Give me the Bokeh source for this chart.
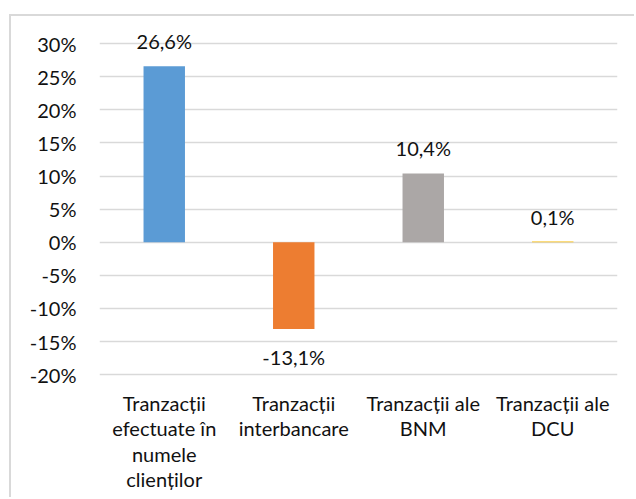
from bokeh.plotting import figure
from bokeh.models import ColumnDataSource, FactorRange, FixedTicker
from bokeh.core.properties import value
from bokeh.embed import file_html
from bokeh.resources import INLINE

categories = [
    "Tranzacții\nefectuate în\nnumele\nclienților",
    "Tranzacții\ninterbancare",
    "Tranzacții ale\nBNM",
    "Tranzacții ale\nDCU",
]
values = [26.6, -13.1, 10.4, 0.1]
colors = ["#5B9BD5", "#ED7D31", "#ABA7A6", "#FFC000"]
y_ticks = [-20, -15, -10, -5, 0, 5, 10, 15, 20, 25, 30]
y_tick_labels = ["-20%", "-15%", "-10%", "-5%", "0%", "5%", "10%", "15%", "20%", "25%", "30%"]

FONT = "Lato"
FS = "20px"
TEXT_COLOR = "#111111"
Y_AXIS_MIN = y_ticks[0]

labels = [f"{v:.1f}".replace(".", ",") + "%" for v in values]
pos_idx = [i for i, v in enumerate(values) if v >= 0]
neg_idx = [i for i, v in enumerate(values) if v < 0]

src = ColumnDataSource(dict(x=categories, top=values, color=colors))
pos_src = ColumnDataSource(dict(x=[categories[i] for i in pos_idx],
                                y=[values[i] for i in pos_idx],
                                label=[labels[i] for i in pos_idx]))
neg_src = ColumnDataSource(dict(x=[categories[i] for i in neg_idx],
                                y=[values[i] for i in neg_idx],
                                label=[labels[i] for i in neg_idx]))
cat_src = ColumnDataSource(dict(x=categories, y=[Y_AXIS_MIN] * len(categories), label=categories))

p = figure(
    x_range=FactorRange(*categories, range_padding=0.0),
    y_range=(-38.86, 33.5),
    width=625, height=483,
    output_backend="svg", toolbar_location=None,
    x_axis_location=None,
    min_border_left=88, min_border_right=19, min_border_top=4, min_border_bottom=0,
)
p.margin = (14, 0, 0, 9)
p.styles = {"border-top": "2px solid #d9d9d9", "border-left": "2px solid #d9d9d9"}
p.outline_line_color = None
p.background_fill_color = "white"
p.border_fill_color = "white"

p.vbar(x="x", top="top", bottom=0, width=0.32, color="color", line_color=None, source=src)

p.text(x="x", y="y", text="label", source=pos_src, text_align="center",
       text_baseline="middle", y_offset=-25, text_font=value(FONT),
       text_font_size=FS, text_color=TEXT_COLOR)
p.text(x="x", y="y", text="label", source=neg_src, text_align="center",
       text_baseline="middle", y_offset=28, text_font=value(FONT),
       text_font_size=FS, text_color=TEXT_COLOR)
p.text(x="x", y="y", text="label", source=cat_src, text_align="center",
       text_baseline="top", y_offset=16, text_font=value(FONT),
       text_font_size=FS, text_color=TEXT_COLOR, text_line_height=1.06)

p.xgrid.grid_line_color = None
p.ygrid.grid_line_color = "#d9d9d9"
p.ygrid.grid_line_width = 1.3
p.ygrid.ticker = FixedTicker(ticks=y_ticks)

p.yaxis.ticker = FixedTicker(ticks=y_ticks)
p.yaxis.major_label_overrides = {t: l for t, l in zip(y_ticks, y_tick_labels)}
p.yaxis.axis_line_color = None
p.yaxis.major_tick_line_color = None
p.yaxis.minor_tick_line_color = None
p.yaxis.major_tick_out = 0
p.yaxis.major_tick_in = 0
p.yaxis.major_label_standoff = 23
p.yaxis.major_label_text_font = FONT
p.yaxis.major_label_text_font_size = FS
p.yaxis.major_label_text_color = TEXT_COLOR

open("out.html", "w").write(file_html(p, INLINE))
